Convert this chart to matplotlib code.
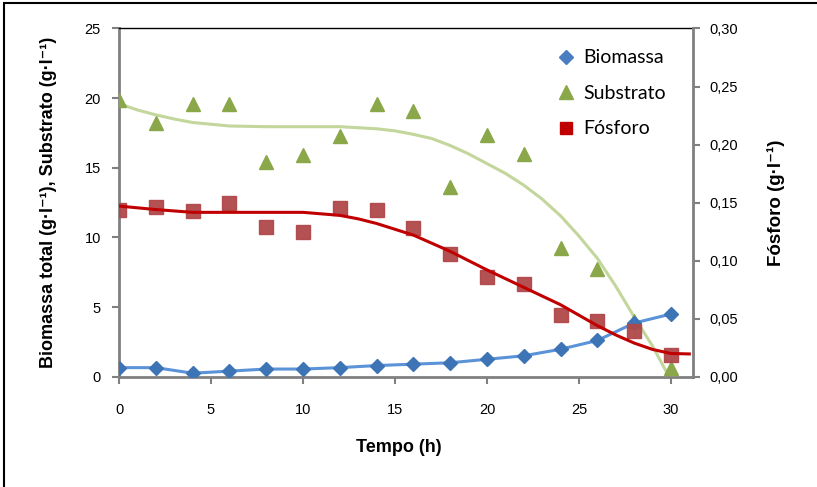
import numpy as np
import matplotlib
matplotlib.use('Agg')
import matplotlib.pyplot as plt
from matplotlib.lines import Line2D
from matplotlib.patches import Rectangle

# Time of sampling (h)
tempo = [0, 2, 4, 6, 8, 10, 12, 14, 16, 18, 20, 22, 24, 26, 28, 30]

# Measured values
biomassa = [0.65, 0.65, 0.25, 0.4, 0.55, 0.55, 0.65, 0.8, 0.9, 1.0, 1.25, 1.5, 1.97, 2.6, 3.85, 4.5]
substrato = [19.9, 18.2, 19.6, 19.55, 15.4, 15.9, 17.3, 19.55, 19.05, 13.6, 17.35, 16.0, 9.25, 7.7, 4.0, 0.6]
fosforo = [0.144, 0.146, 0.143, 0.150, 0.129, 0.125, 0.145, 0.144, 0.128, 0.106, 0.086, 0.080, 0.053, 0.048, 0.039, 0.019]

# Model curves
t_subs = [0, 1, 2, 3, 4, 6, 8, 10, 12, 14, 15, 16, 17, 18, 19, 20, 21, 22, 23, 24, 25, 26, 27, 28, 29, 29.9]
subs_model = [19.6, 19.15, 18.8, 18.5, 18.25, 18.0, 17.95, 17.95, 17.95, 17.8, 17.65, 17.4, 17.1, 16.6, 16.0,
              15.3, 14.6, 13.75, 12.75, 11.55, 10.1, 8.5, 6.5, 4.3, 2.2, 0.0]
t_fos = [0, 2, 4, 6, 8, 10, 12, 13, 14, 15, 16, 17, 18, 20, 22, 24, 26, 27, 28, 29, 30, 31]
fos_model = [0.147, 0.144, 0.1416, 0.1416, 0.1416, 0.1416, 0.139, 0.136, 0.132, 0.127, 0.122, 0.115,
             0.108, 0.092, 0.077, 0.062, 0.044, 0.036, 0.029, 0.0235, 0.020, 0.0196]

fos_ticks = [0.0, 0.05, 0.10, 0.15, 0.20, 0.25, 0.30]
fos_labels = ['0,00', '0,05', '0,10', '0,15', '0,20', '0,25', '0,30']

plt.rcParams['font.family'] = ['Liberation Sans', 'DejaVu Sans']

fig = plt.figure(figsize=(8.17, 4.87), dpi=100)
ax = fig.add_axes([0.1457, 0.2265, 0.7025, 0.715])
ax2 = ax.twinx()

# left axis: biomass and substrate
ax.plot(t_subs, subs_model, color='#C3D69B', lw=2.2, zorder=2)
ax.plot(tempo, substrato, linestyle='none', marker='^', ms=10, color='#8AA84A', zorder=3)
ax.plot(tempo, biomassa, color='#5B93D8', lw=2.2, zorder=4)
ax.plot(tempo, biomassa, linestyle='none', marker='D', ms=7, color='#3D74B6', zorder=5)

# right axis: phosphorus
ax2.plot(t_fos, fos_model, color='#C00000', lw=2.2, zorder=3)
ax2.plot(tempo, fosforo, linestyle='none', marker='s', ms=10.5, color='#B0484A', alpha=0.95, zorder=2)

ax.set_xlim(0, 31.2)
ax.set_ylim(0, 25)
ax2.set_ylim(0, 0.30)
ax.set_xticks([0, 5, 10, 15, 20, 25, 30])
ax.set_yticks([0, 5, 10, 15, 20, 25])
ax2.set_yticks(fos_ticks)
ax2.set_yticklabels(fos_labels)

for a in (ax, ax2):
    a.tick_params(direction='out', length=5, width=1.5, color='#808080', labelsize=10.5)
    for s in a.spines.values():
        s.set_visible(False)
ax.tick_params(axis='x', pad=14)
ax.tick_params(axis='y', pad=8)
ax2.tick_params(axis='y', pad=7)

ax.spines['left'].set_visible(True)
ax.spines['bottom'].set_visible(True)
ax.spines['top'].set_visible(True)
ax.spines['left'].set_color('#808080')
ax.spines['bottom'].set_color('#808080')
ax.spines['left'].set_linewidth(2)
ax.spines['bottom'].set_linewidth(2)
ax.spines['top'].set_color('black')
ax.spines['top'].set_linewidth(1)
ax2.spines['right'].set_visible(True)
ax2.spines['right'].set_color('#808080')
ax2.spines['right'].set_linewidth(2)

ax.set_xlabel('Tempo (h)', fontsize=13, fontweight='bold')
ax.xaxis.set_label_coords(0.488, -0.18)
ax.set_ylabel('Biomassa total (g·l⁻¹), Substrato (g·l⁻¹)', fontsize=13, fontweight='bold')
ax.yaxis.set_label_coords(-0.108, 0.5)
ax2.set_ylabel('Fósforo (g·l⁻¹)', fontsize=13.5, fontweight='bold')
ax2.yaxis.set_label_coords(1.129, 0.5)

# legend shows markers only
handles = [Line2D([], [], linestyle='none', marker='D', ms=7, color='#4A7EC0'),
           Line2D([], [], linestyle='none', marker='^', ms=10, color='#8AA84A'),
           Line2D([], [], linestyle='none', marker='s', ms=8, color='#C00000')]
ax2.legend(handles, ['Biomassa', 'Substrato', 'Fósforo'], loc='upper left',
           bbox_to_anchor=(0.732, 0.99), frameon=False, handlelength=1.0,
           handletextpad=0.35, labelspacing=0.95, prop={'family': 'Lato', 'size': 14})

# outer frame of the chart
fig.patches.append(Rectangle((4 / 817, -0.02), 1.0, 1 - 3 / 487 + 0.02, transform=fig.transFigure,
                             fill=False, edgecolor='black', lw=1.5))

fig.savefig('out.png', dpi=100)
